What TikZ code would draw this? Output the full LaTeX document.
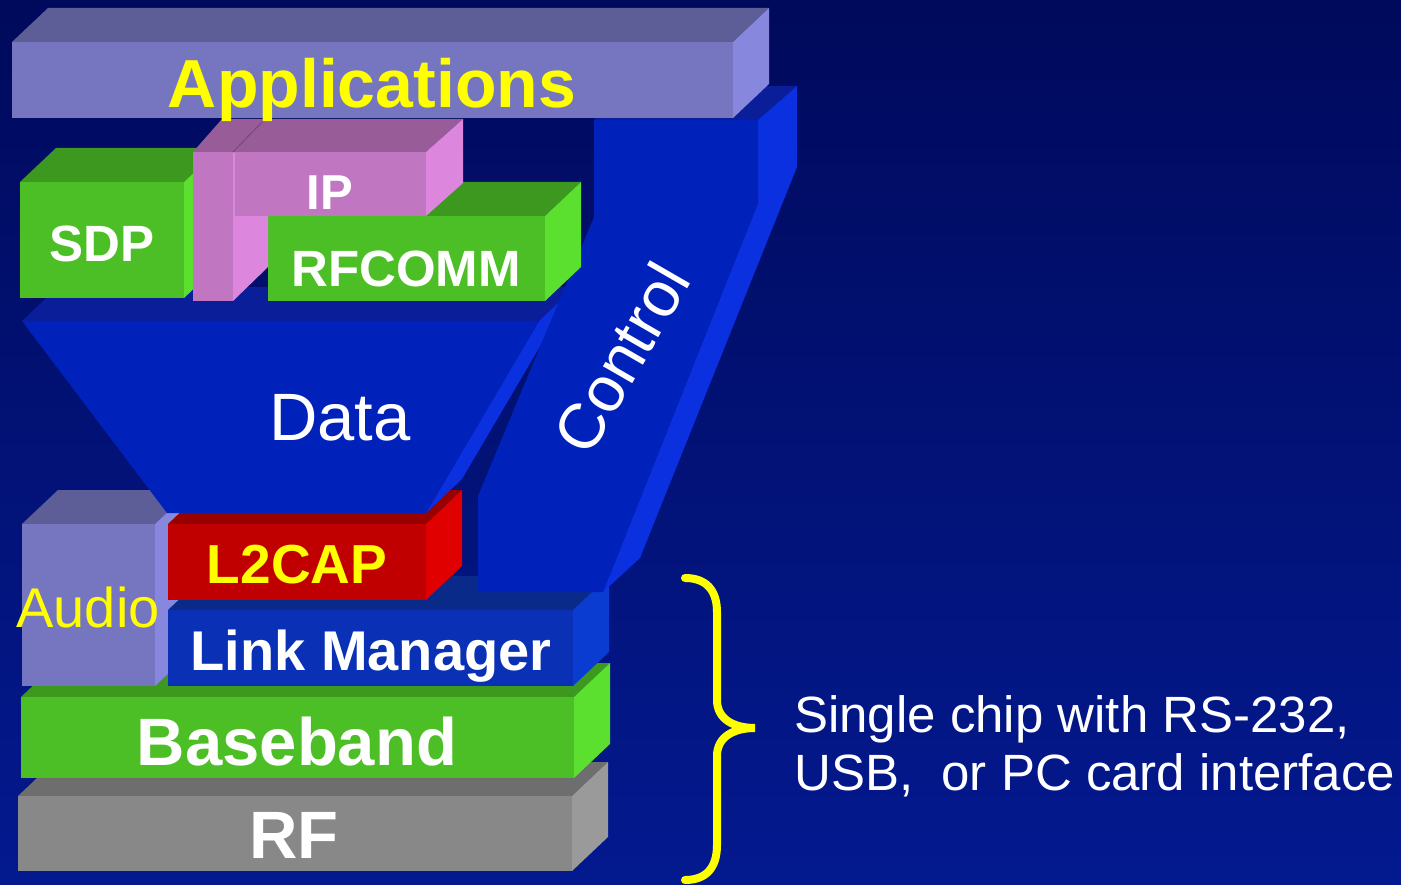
\documentclass[tikz,border=0pt]{standalone}
\usepackage{fontspec}
\setmainfont{Liberation Sans}

% palette
\definecolor{bgtop}{HTML}{000A5C}
\definecolor{bgbot}{HTML}{03198F}
\definecolor{appfront}{HTML}{7676C0}
\definecolor{apptop}{HTML}{5D5D98}
\definecolor{appside}{HTML}{8787DE}
\definecolor{gfront}{HTML}{4DBF26}
\definecolor{gtop}{HTML}{3D9820}
\definecolor{gside}{HTML}{5CE030}
\definecolor{pfront}{HTML}{C076C0}
\definecolor{ptop}{HTML}{985C98}
\definecolor{pside}{HTML}{DD86DD}
\definecolor{redfront}{HTML}{C00000}
\definecolor{redtop}{HTML}{990000}
\definecolor{redside}{HTML}{E00000}
\definecolor{lmfront}{HTML}{0A30B5}
\definecolor{lmtop}{HTML}{0A2A8A}
\definecolor{lmside}{HTML}{0A3CD2}
\definecolor{grfront}{HTML}{888888}
\definecolor{grtop}{HTML}{6E6E6E}
\definecolor{grside}{HTML}{9A9A9A}
\definecolor{bluefront}{HTML}{0022BB}
\definecolor{bluetop}{HTML}{0A1E99}
\definecolor{blueside}{HTML}{0A30E0}
\definecolor{labelyellow}{HTML}{FFFF00}

% a layer block: front rectangle (x1,y1)-(x2,y2) with top and right faces
% #5 front colour, #6 top colour, #7 side colour
\newcommand\slab[7]{%
  \fill[#6] (#1,#2) -- ++(36,-34) -- (#3+36,#2-34) -- (#3,#2) -- cycle;
  \fill[#7] (#3,#2) -- ++(36,-34) -- (#3+36,#4-34) -- (#3,#4) -- cycle;
  \fill[#5] (#1,#2) rectangle (#3,#4);
}

\tikzset{
  boldlbl/.style={font=\bfseries\fontsize{#1}{#1}\selectfont, anchor=base, inner sep=0pt},
  plainlbl/.style={font=\fontsize{#1}{#1}\selectfont, anchor=base, inner sep=0pt},
}

\begin{document}
\begin{tikzpicture}[x=1pt,y=-1pt]
\useasboundingbox (0,0) rectangle (1401,885);
\shade[top color=bgtop, bottom color=bgbot] (0,0) rectangle (1401,885);

% lower stack
\slab{18}{796}{572}{871}{grfront}{grtop}{grside}
\slab{21}{697}{574}{778}{gfront}{gtop}{gside}
\slab{22}{524}{155}{686}{appfront}{apptop}{appside}
\slab{168}{610}{573}{686}{lmfront}{lmtop}{lmside}
\slab{168}{524}{426}{600}{redfront}{redtop}{redside}

% data funnel
\fill[bluetop] (22,321) -- (58,287) -- (575,287) -- (539,321) -- cycle;
\fill[blueside] (539,321) -- (575,287) -- (462,479) -- (426,513) -- cycle;
\fill[bluefront] (22,321) -- (539,321) -- (426,513) -- (167,513) -- cycle;

% control column
\fill[bluetop] (594,120) -- (630,86) -- (797,86) -- (758,120) -- cycle;
\fill[blueside] (758,120) -- (797,86) -- (797,167) -- (640,558) -- (603,592) -- (758,203) -- cycle;
\fill[bluefront] (594,120) -- (758,120) -- (758,203) -- (603,592) -- (478,592) -- (478,496) -- (594,217) -- cycle;

% SDP and RFCOMM
\slab{20}{182}{184}{298}{gfront}{gtop}{gside}
\slab{268}{216}{545}{301}{gfront}{gtop}{gside}

% IP block with its left leg
\fill[pside] (233,301) -- (268,267) -- (268,118) -- (233,152) -- cycle;
\fill[ptop] (193,152) -- (222,119) -- (463,119) -- (426,152) -- cycle;
\draw[pfront!60!black, line width=0.8pt] (233,152) -- (265,119);
\fill[pside] (426,152) -- (463,119) -- (463,183) -- (426,216) -- cycle;
\fill[pfront] (193,152) rectangle (233,301);
\fill[pfront] (233,152) rectangle (426,216);
\draw[pside, line width=1.5pt] (234,153) -- (234,216);

% Applications
\slab{12}{42}{733}{118}{appfront}{apptop}{appside}

% labels
\node[boldlbl=68, text=labelyellow] (app) at (372,108) {Applications};
\node[boldlbl=51, text=white] (sdp) at (102,262) {SDP};
\node[boldlbl=49, text=white] (ip) at (330,210) {IP};
\node[boldlbl=51, text=white] (rfcomm) at (406,287) {RFCOMM};
\node[plainlbl=67, text=white] (data) at (340,440) {Data};
\node[font=\fontsize{64}{64}\selectfont, text=white, inner sep=0pt, rotate=60] (control) at (621,358) {Control};
\node[boldlbl=55, text=labelyellow] (l2cap) at (297,583) {L2CAP};
\node[plainlbl=56, text=labelyellow] (audio) at (88,627) {Audio};
\node[boldlbl=56, text=white] (lm) at (371,670) {Link Manager};
\node[boldlbl=67, text=white] (baseband) at (297,765) {Baseband};
\node[boldlbl=67, text=white] (rf) at (294,858) {RF};

% brace and chip note
\draw[labelyellow, line width=8pt, line cap=round]
  (685,578) .. controls (706,578) and (717,590) .. (717,612) -- (717,700)
  .. controls (717,720) and (735,728) .. (755,728)
  .. controls (735,728) and (717,736) .. (717,756) -- (717,845)
  .. controls (717,868) and (706,880) .. (685,880);
\node[font=\fontsize{51}{58}\selectfont, text=white, anchor=base west, inner sep=0pt, align=left] (chip) at (794,790)
  {Single chip with RS-232,\\USB,\ \ or PC card interface};
\end{tikzpicture}
\end{document}
